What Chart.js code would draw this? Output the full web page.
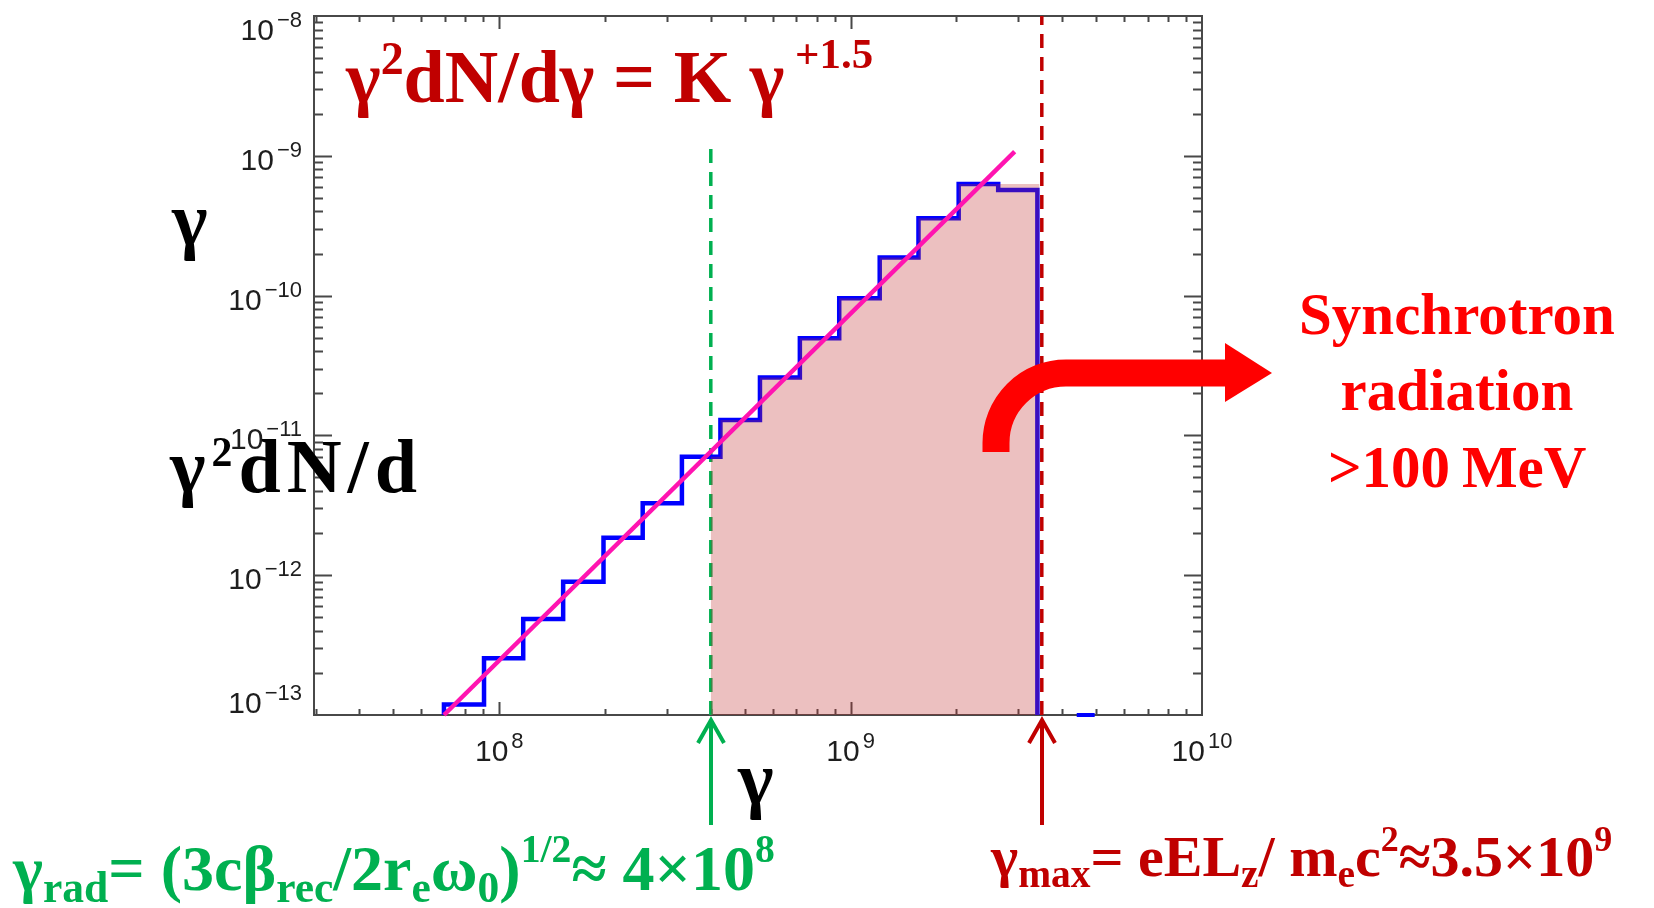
<!DOCTYPE html>
<html>
<head>
<meta charset="utf-8">
<title>Electron spectrum</title>
<script src="https://cdn.jsdelivr.net/npm/chart.js@4.4.1/dist/chart.umd.min.js"></script>
<style>
  html, body { margin: 0; padding: 0; background: #fff; }
  #wrap { position: relative; width: 1654px; height: 908px; overflow: hidden; }
  #wrap canvas { position: absolute; left: 0; top: 0; }
  .lbl {
    position: absolute; white-space: nowrap; line-height: 1;
    font-family: "Liberation Serif", "Times New Roman", serif; font-weight: bold;
  }
  .lbl sup, .lbl sub { position: relative; vertical-align: baseline; }
  .probe { display: inline-block; width: 0; height: 0; }
  .black { color: #000; }
  .dred { color: #c00000; }
  .green { color: #00b050; }
  .red { color: #ff0000; }
</style>
</head>
<body>
<div id="wrap">
  <canvas id="spectrum" width="1654" height="908"></canvas>

  <div class="lbl dred" data-x="346" data-y="102" style="font-size:74px">γ<sup style="font-size:62%;top:-0.62em">2</sup>dN/dγ = K γ<sup style="font-size:58%;top:-0.8em">&nbsp;+1.5</sup><i class="probe"></i></div>

  <div class="lbl black" data-x="172" data-y="245" style="font-size:76px">γ<i class="probe"></i></div>
  <div class="lbl black" data-x="170" data-y="492" style="font-size:76px;letter-spacing:6px">γ<sup style="font-size:55%;top:-0.62em">2</sup>dN/d<i class="probe"></i></div>
  <div class="lbl black" data-x="738" data-y="804" style="font-size:76px">γ<i class="probe"></i></div>

  <div class="lbl green" data-x="13" data-y="890" style="font-size:64px">γ<sub style="font-size:68%;top:0.28em">rad</sub>= (3cβ<sub style="font-size:68%;top:0.28em">rec</sub>/2r<sub style="font-size:68%;top:0.28em">e</sub>ω<sub style="font-size:68%;top:0.28em">0</sub>)<sup style="font-size:62%;top:-0.7em">1/2</sup>≈ 4×10<sup style="font-size:62%;top:-0.7em">8</sup><i class="probe"></i></div>

  <div class="lbl dred" data-x="991" data-y="876" style="font-size:58px">γ<sub style="font-size:68%;top:0.28em">max</sub>= eEL<sub style="font-size:68%;top:0.28em">z</sub>/ m<sub style="font-size:68%;top:0.28em">e</sub>c<sup style="font-size:62%;top:-0.7em">2</sup>≈3.5×10<sup style="font-size:62%;top:-0.7em">9</sup><i class="probe"></i></div>

  <div class="lbl red" data-x="1457" data-y="334" data-align="center" style="font-size:59px">Synchrotron<i class="probe"></i></div>
  <div class="lbl red" data-x="1457" data-y="410" data-align="center" style="font-size:59px">radiation<i class="probe"></i></div>
  <div class="lbl red" data-x="1457" data-y="487" data-align="center" style="font-size:59px">&gt;100&thinsp;MeV<i class="probe"></i></div>
</div>

<script>
// histogram of γ²dN/dγ: bin edges in γ and the height of each bin
const binEdges = [6.96e7, 9.05e7, 1.17e8, 1.52e8, 1.98e8, 2.56e8, 3.31e8, 4.26e8,
                  5.52e8, 7.17e8, 9.28e8, 1.21e9, 1.56e9, 2.03e9, 2.63e9, 3.40e9];
const binHeights = [1.19e-13, 2.55e-13, 4.86e-13, 8.99e-13, 1.85e-12, 3.27e-12, 7.04e-12,
                    1.29e-11, 2.59e-11, 4.95e-11, 9.56e-11, 1.87e-10, 3.57e-10, 6.29e-10, 5.69e-10];
// lone bin just past the cutoff, sitting on the floor of the plot
const tailEdges = [4.40e9, 4.95e9];
const tailHeight = 1.0e-13;

// power-law fit, two end points
const fitGamma = [6.96e7, 2.93e9];
const fitValue = [1.0e-13, 1.07e-9];

// characteristic Lorentz factors
const gammaRad = 4e8;
const gammaMax = 3.5e9;
const radLineTop = 1.2e-9;
const shadeEnd = 3.45e9;

// axis ranges and decade labels
const xRange = [2.97e7, 1e10];
const yRange = [1e-13, 1e-8];
const xDecades = [8, 9, 10];
const yDecades = [-13, -12, -11, -10, -9, -8];

const floor = yRange[0];

// outline of the histogram as a stepped line
const histPoints = [{ x: binEdges[0], y: floor }];
binHeights.forEach((h, i) => histPoints.push({ x: binEdges[i], y: h }));
histPoints.push({ x: binEdges[binEdges.length - 1], y: floor });

// shaded area from γ_rad to the cutoff; the last bin keeps the peak level
const shadePoints = [];
binEdges.forEach((e, i) => {
  if (i >= binHeights.length) return;
  const next = binEdges[i + 1];
  if (next <= gammaRad) return;
  const h = i === binHeights.length - 1 ? binHeights[i - 1] : binHeights[i];
  shadePoints.push({ x: Math.max(e, gammaRad), y: h });
});
shadePoints.push({ x: shadeEnd, y: shadePoints[shadePoints.length - 1].y });

const fitPoints = fitGamma.map((g, i) => ({ x: g, y: fitValue[i] }));

// frame with inward ticks on all four sides, IDL style
const frame = {
  id: 'frame',
  beforeDatasetsDraw(chart) {
    const { ctx, chartArea: a, scales: { x, y } } = chart;
    ctx.save();
    ctx.strokeStyle = '#484848';
    ctx.lineWidth = 2;
    ctx.strokeRect(a.left, a.top, a.right - a.left, a.bottom - a.top);

    ctx.beginPath();
    for (let d = 7; d <= 10; d++) {
      for (let m = 1; m <= 9; m++) {
        const v = m * Math.pow(10, d);
        if (v <= xRange[0] || v >= xRange[1]) continue;
        const px = Math.round(x.getPixelForValue(v)) + 0.5;
        const len = m === 1 ? 13 : 6;
        ctx.moveTo(px, a.bottom); ctx.lineTo(px, a.bottom - len);
        ctx.moveTo(px, a.top); ctx.lineTo(px, a.top + len);
      }
    }
    for (let d = -13; d <= -9; d++) {
      for (let m = 1; m <= 9; m++) {
        const v = m * Math.pow(10, d);
        if (v <= yRange[0] || v >= yRange[1]) continue;
        const py = Math.round(y.getPixelForValue(v)) + 0.5;
        const len = m === 1 ? 18 : 9;
        ctx.moveTo(a.left, py); ctx.lineTo(a.left + len, py);
        ctx.moveTo(a.right, py); ctx.lineTo(a.right - len, py);
      }
    }
    ctx.stroke();

    // decade labels 10^n
    const mainFont = '30px "Liberation Sans", Arial, sans-serif';
    const supFont = '22px "Liberation Sans", Arial, sans-serif';
    const label = (exp, px, base, align) => {
      const main = '10';
      const sup = exp < 0 ? '\u2212' + (-exp) : String(exp);
      ctx.font = mainFont;
      const wm = ctx.measureText(main).width;
      ctx.font = supFont;
      const ws = ctx.measureText(sup).width;
      const w = wm + 3 + ws;
      const left = align === 'right' ? px - w : px - w / 2;
      ctx.fillStyle = '#1e1e1e';
      ctx.textAlign = 'left';
      ctx.textBaseline = 'alphabetic';
      ctx.font = mainFont;
      ctx.fillText(main, left, base);
      ctx.font = supFont;
      ctx.fillText(sup, left + wm + 3, base - 13);
    };
    xDecades.forEach(d => label(d, x.getPixelForValue(Math.pow(10, d)), a.bottom + 46, 'center'));
    yDecades.forEach(d => {
      const py = y.getPixelForValue(Math.pow(10, d));
      const base = Math.min(Math.max(py + 14, a.top + 24), a.bottom - 2);
      label(d, a.left - 12, base, 'right');
    });
    ctx.restore();
  }
};

// arrows under the axis and the bent arrow to the synchrotron note
const arrows = {
  id: 'arrows',
  afterDraw(chart) {
    const { ctx, chartArea: a, scales: { x } } = chart;
    ctx.save();
    ctx.lineWidth = 4;
    ctx.lineCap = 'butt';
    [[gammaRad, '#00b050'], [gammaMax, '#c00000']].forEach(([g, col]) => {
      const px = Math.round(x.getPixelForValue(g));
      ctx.strokeStyle = col;
      ctx.beginPath();
      ctx.moveTo(px, a.bottom + 110); ctx.lineTo(px, a.bottom + 6);
      ctx.stroke();
      ctx.beginPath();
      ctx.moveTo(px - 13, a.bottom + 28); ctx.lineTo(px, a.bottom + 5); ctx.lineTo(px + 13, a.bottom + 28);
      ctx.stroke();
    });

    const cx = a.right - 136, cy = 443, r = 70;
    ctx.strokeStyle = '#ff0000';
    ctx.fillStyle = '#ff0000';
    ctx.lineWidth = 27;
    ctx.beginPath();
    ctx.moveTo(cx - r, cy + 9);
    ctx.lineTo(cx - r, cy);
    ctx.arc(cx, cy, r, Math.PI, 1.5 * Math.PI);
    ctx.lineTo(a.right + 24, cy - r);
    ctx.stroke();
    ctx.beginPath();
    ctx.moveTo(a.right + 23, cy - r - 30);
    ctx.lineTo(a.right + 70, cy - r);
    ctx.lineTo(a.right + 23, cy - r + 29);
    ctx.closePath();
    ctx.fill();
    ctx.restore();
  }
};

new Chart(document.getElementById('spectrum'), {
  type: 'line',
  data: {
    datasets: [
      {
        label: 'fit',
        data: fitPoints,
        borderColor: '#ff14b0',
        borderWidth: 4.5,
        order: 0
      },
      {
        label: 'shade',
        data: shadePoints,
        stepped: 'before',
        borderWidth: 0,
        borderColor: 'rgba(0,0,0,0)',
        backgroundColor: 'rgba(192,45,45,0.3)',
        fill: 'start',
        order: 1
      },
      {
        label: 'gamma max',
        data: [{ x: gammaMax, y: yRange[0] }, { x: gammaMax, y: yRange[1] }],
        borderColor: '#c00000',
        borderWidth: 3.5,
        borderDash: [14, 9],
        order: 2
      },
      {
        label: 'histogram',
        data: histPoints,
        stepped: 'before',
        borderColor: '#0000ff',
        borderWidth: 4.5,
        borderJoinStyle: 'miter',
        order: 3
      },
      {
        label: 'tail',
        data: tailEdges.map(g => ({ x: g, y: tailHeight })),
        borderColor: '#0000ff',
        borderWidth: 4,
        order: 3
      },
      {
        label: 'gamma rad',
        data: [{ x: gammaRad, y: yRange[0] }, { x: gammaRad, y: radLineTop }],
        borderColor: '#00b050',
        borderWidth: 3.5,
        borderDash: [14, 9],
        order: 4
      }
    ]
  },
  options: {
    responsive: false,
    animation: false,
    devicePixelRatio: 1,
    events: [],
    clip: false,
    elements: { point: { radius: 0 }, line: { tension: 0 } },
    layout: { padding: { left: 314, right: 452, top: 16, bottom: 193 } },
    plugins: { legend: { display: false }, tooltip: { enabled: false } },
    scales: {
      x: { type: 'logarithmic', min: xRange[0], max: xRange[1], bounds: 'data', display: false },
      y: { type: 'logarithmic', min: yRange[0], max: yRange[1], bounds: 'data', display: false }
    }
  },
  plugins: [frame, arrows]
});

// put every text label on its baseline
document.querySelectorAll('.lbl').forEach(el => {
  const base = el.querySelector('.probe').offsetTop;
  el.style.top = (+el.dataset.y - base) + 'px';
  const w = el.offsetWidth;
  el.style.left = (el.dataset.align === 'center' ? +el.dataset.x - w / 2 : +el.dataset.x) + 'px';
});
</script>
</body>
</html>
